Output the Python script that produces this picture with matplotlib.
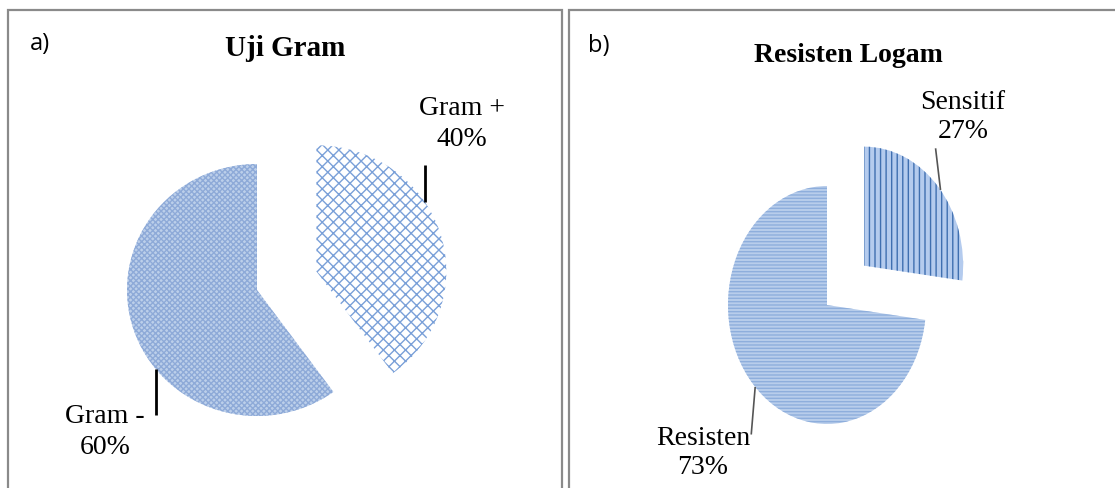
import numpy as np
import matplotlib.pyplot as plt
from matplotlib.patches import Rectangle

# data
gram_labels = ['Gram +', 'Gram -']
gram_values = [40, 60]
logam_labels = ['Sensitif', 'Resisten']
logam_values = [27, 73]

W, H = 1115, 488
fig = plt.figure(figsize=(W / 100, H / 100), dpi=100)
serif = 'Liberation Serif'


def fx(x):
    return x / W


def fy(y):
    return 1 - y / H


def panel_box(x0, y0, x1, y1):
    fig.patches.append(Rectangle((fx(x0), fy(y1)), fx(x1) - fx(x0), fy(y0) - fy(y1),
                                 transform=fig.transFigure, fill=False,
                                 edgecolor='#8a8a8a', lw=1.6))


def arc_point(w, ang):
    cx, cy = w.center
    a = np.deg2rad(ang)
    return cx + w.r * np.cos(a), cy + w.r * np.sin(a)


def leader(ax, w, ang, dx, dy, color, lw):
    x, y = arc_point(w, ang)
    ax.plot([x, x + dx], [y, y + dy], color=color, lw=lw, solid_capstyle='butt')


panel_box(8, 10, 562, 495)
panel_box(569, 10, 1125, 495)

# --- a) Uji Gram ---
ax1 = fig.add_axes([0, 0, 560 / W, 1])
w1, _ = ax1.pie(gram_values, startangle=90, counterclock=False, explode=[0.48, 0],
                wedgeprops=dict(linewidth=0))
w1[0].set_facecolor('white'); w1[0].set_edgecolor('#7aa0d8'); w1[0].set_hatch('xxx')
w1[1].set_facecolor('#bccfea'); w1[1].set_edgecolor('#8eaad8'); w1[1].set_hatch('xxxxxx')
ax1.set_aspect('auto')
ax1.set_xlim(-257 / 130, (560 - 257) / 130)
ax1.set_ylim(-(H - 290) / 126, 290 / 126)
ax1.axis('off')
leader(ax1, w1[0], 33.5, 0, 0.29, 'black', 2)
leader(ax1, w1[1], 219, 0, -0.36, 'black', 2)

fig.text(fx(30), fy(44), 'a)', fontsize=17, family='Open Sans', va='center')
fig.text(fx(285), fy(48), 'Uji Gram', fontsize=21, family=serif, weight='bold',
         ha='center', va='center')
fig.text(fx(462), fy(124), f'{gram_labels[0]}\n{gram_values[0]}%', fontsize=20,
         family=serif, ha='center', va='center', linespacing=1.3)
fig.text(fx(105), fy(432), f'{gram_labels[1]}\n{gram_values[1]}%', fontsize=20,
         family=serif, ha='center', va='center', linespacing=1.3)

# --- b) Resisten Logam ---
ax2 = fig.add_axes([560 / W, 0, (W - 560) / W, 1])
w2, _ = ax2.pie(logam_values, startangle=90, counterclock=False, explode=[0.5, 0],
                wedgeprops=dict(linewidth=0))
w2[0].set_facecolor('#b4cbee'); w2[0].set_edgecolor('#3f6fb0'); w2[0].set_hatch('|||')
w2[1].set_facecolor('#b8cdeb'); w2[1].set_edgecolor('#8eaedc'); w2[1].set_hatch('-----')
ax2.set_aspect('auto')
ax2.set_xlim((560 - 827) / 99, (W - 827) / 99)
ax2.set_ylim(-(H - 305) / 119, 305 / 119)
ax2.axis('off')
leader(ax2, w2[0], 39.5, -0.05, 0.35, '#555555', 1.2)
leader(ax2, w2[1], 223.5, -0.04, -0.40, '#555555', 1.2)

fig.text(fx(588), fy(46), 'b)', fontsize=17, family='Open Sans', va='center')
fig.text(fx(848), fy(56), 'Resisten Logam', fontsize=20, family=serif, weight='bold',
         ha='center', va='center')
fig.text(fx(963), fy(117), f'{logam_labels[0]}\n{logam_values[0]}%', fontsize=20,
         family=serif, ha='center', va='center', linespacing=1.25)
fig.text(fx(703), fy(453), f'{logam_labels[1]}\n{logam_values[1]}%', fontsize=20,
         family=serif, ha='center', va='center', linespacing=1.25)

fig.savefig('out.png', dpi=100)
